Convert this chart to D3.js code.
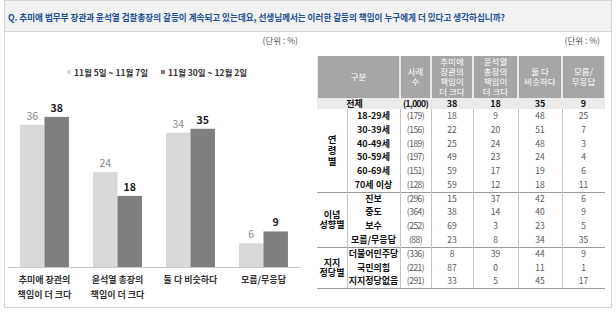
<!DOCTYPE html>
<html>
<head>
<meta charset="utf-8">
<script src="https://cdn.jsdelivr.net/npm/d3@7"></script>
<style>
  html, body { margin: 0; padding: 0; background: #fff; }
  svg { display: block; font-family: "Noto Sans CJK KR", "Noto Sans", sans-serif; }
</style>
</head>
<body>
<svg id="chart" width="616" height="314"></svg>
<script>
// chart data
var title = "Q. 추미애 법무부 장관과 윤석열 검찰총장의 갈등이 계속되고 있는데요, 선생님께서는 이러한 갈등의 책임이 누구에게 더 있다고 생각하십니까?";
var categories = ["추미애 장관의 책임이 더 크다", "윤석열 총장의 책임이 더 크다", "둘 다 비슷하다", "모름/무응답"];
var catLines = [["추미애 장관의", "책임이 더 크다"], ["윤석열 총장의", "책임이 더 크다"], ["둘 다 비슷하다"], ["모름/무응답"]];
var seriesNames = ["11월 5일 ~ 11월 7일", "11월 30일 ~ 12월 2일"];
var nov5 = [36, 24, 34, 6];
var nov30 = [38, 18, 35, 9];

// table data
var colHeaders = [["사례", "수"], ["추미애", "장관의", "책임이", "더 크다"], ["윤석열", "총장의", "책임이", "더 크다"], ["둘 다", "비슷하다"], ["모름/", "무응답"]];
var totalRow = ["(1,000)", 38, 18, 35, 9];
var groupNames = [["연", "령", "별"], ["이념", "성향별"], ["지지", "정당별"]];
var groupSizes = [6, 4, 3];
var rowLabels = ["18-29세", "30-39세", "40-49세", "50-59세", "60-69세", "70세 이상", "진보", "중도", "보수", "모름/무응답", "더불어민주당", "국민의힘", "지지정당없음"];
var rowN = [179, 156, 189, 197, 151, 128, 296, 364, 252, 88, 336, 221, 291];
var rowChu = [18, 22, 25, 49, 59, 59, 15, 38, 69, 23, 8, 87, 33];
var rowYoon = [9, 20, 24, 23, 17, 12, 37, 14, 3, 8, 39, 0, 5];
var rowBoth = [48, 51, 48, 24, 19, 18, 42, 40, 23, 34, 44, 11, 45];
var rowDk = [25, 7, 3, 4, 6, 11, 6, 9, 5, 35, 9, 1, 17];

var colors = ["#d9d9d9", "#7f7f7f"];

var svg = d3.select("#chart");

// frame + header band
svg.append("rect").attr("x", 4.5).attr("y", 0.5).attr("width", 607).attr("height", 307)
    .attr("fill", "#fff").attr("stroke", "#d6d6d6");
svg.append("rect").attr("x", 4.5).attr("y", 0.5).attr("width", 607).attr("height", 31)
    .attr("fill", "#f2f2f2").attr("stroke", "#d6d6d6");
svg.append("text").attr("x", 8).attr("y", 20.5)
    .attr("font-size", 9.5).attr("font-weight", "bold").attr("fill", "#1f4e96")
    .attr("textLength", 497).attr("lengthAdjust", "spacingAndGlyphs")
    .text(title);

[[298, 44], [600, 44]].forEach(function(p) {
  svg.append("text").attr("x", p[0]).attr("y", p[1]).attr("text-anchor", "end")
      .attr("font-size", 8.5).attr("fill", "#555").text("(단위 : %)");
});

// ---- bar chart ----
var x0 = d3.scaleBand().domain(categories).range([8, 300]).paddingInner(0.33).paddingOuter(0.165);
var x1 = d3.scaleBand().domain(seriesNames).range([0, x0.bandwidth()]);
var y = d3.scaleLinear().domain([0, 40]).range([267, 109]);

var values = [nov5, nov30];

// legend
var legX = [67, 161];
seriesNames.forEach(function(s, i) {
  svg.append("rect").attr("x", legX[i]).attr("y", 70).attr("width", 4).attr("height", 4).attr("fill", colors[i]);
  svg.append("text").attr("x", legX[i] + 7).attr("y", 75.5)
      .attr("font-size", 8.5).attr("font-weight", "bold").attr("fill", "#333").text(s);
});

var groups = svg.append("g").selectAll("g")
    .data(categories)
    .enter().append("g")
      .attr("transform", function(d) { return "translate(" + x0(d) + ",0)"; });

function pairs(d, i) {
  return seriesNames.map(function(s, j) { return { s: s, v: values[j][i], j: j }; });
}

groups.selectAll("rect")
    .data(pairs)
    .enter().append("rect")
      .attr("x", function(d) { return x1(d.s); })
      .attr("y", function(d) { return y(d.v); })
      .attr("width", x1.bandwidth())
      .attr("height", function(d) { return y(0) - y(d.v); })
      .attr("fill", function(d) { return colors[d.j]; });

groups.selectAll(".val")
    .data(pairs)
    .enter().append("text")
      .attr("class", "val")
      .attr("x", function(d) { return x1(d.s) + x1.bandwidth() / 2; })
      .attr("y", function(d) { return y(d.v) - 5; })
      .attr("text-anchor", "middle")
      .attr("font-size", 10.5)
      .attr("font-weight", function(d) { return d.j ? "bold" : "normal"; })
      .attr("fill", function(d) { return d.j ? "#1a1a1a" : "#8a8a8a"; })
      .text(function(d) { return d.v; });

svg.append("line").attr("x1", 8).attr("x2", 300).attr("y1", y(0) + 0.5).attr("y2", y(0) + 0.5)
    .attr("stroke", "#c8c8c8");

groups.each(function(d, i) {
  var g = d3.select(this);
  catLines[i].forEach(function(line, k) {
    g.append("text").attr("x", x0.bandwidth() / 2).attr("y", 283 + k * 15)
        .attr("text-anchor", "middle").attr("font-size", 9).attr("font-weight", "bold")
        .attr("fill", "#333").text(line);
  });
});

// ---- table ----
var colEdges = [317, 347, 400, 431, 473, 518, 562, 605];
var headTop = 56, headBot = 98, totBot = 109, tabBot = 288;
var rowY = d3.scaleBand().domain(d3.range(rowLabels.length)).range([totBot, tabBot]);
var tbl = svg.append("g");

// header cells
var headCells = [[colEdges[0], colEdges[2]]];
for (var c = 2; c < 7; c++) headCells.push([colEdges[c], colEdges[c + 1]]);
headCells.forEach(function(hc) {
  tbl.append("rect").attr("x", hc[0] + 0.75).attr("y", headTop).attr("width", hc[1] - hc[0] - 1.5)
      .attr("height", headBot - headTop).attr("fill", "#a6a6a6");
});
tbl.append("text").attr("x", (colEdges[0] + colEdges[2]) / 2).attr("y", 80)
    .attr("text-anchor", "middle").attr("font-size", 8.5).attr("fill", "#fff").text("구분");
colHeaders.forEach(function(lines, i) {
  var cx = (colEdges[i + 2] + colEdges[i + 3]) / 2;
  var startY = 77 - (lines.length - 1) * 10 / 2 + 3;
  lines.forEach(function(l, k) {
    tbl.append("text").attr("x", cx).attr("y", startY + k * 10)
        .attr("text-anchor", "middle").attr("font-size", 8.5).attr("fill", "#fff").text(l);
  });
});

// total row
tbl.append("rect").attr("x", colEdges[0]).attr("y", headBot).attr("width", colEdges[7] - colEdges[0])
    .attr("height", totBot - headBot).attr("fill", "#ebebeb");
tbl.append("text").attr("x", (colEdges[0] + colEdges[2]) / 2 - 4).attr("y", 107)
    .attr("text-anchor", "middle").attr("font-size", 9).attr("font-weight", "bold").attr("fill", "#111").text("전체");
totalRow.forEach(function(v, i) {
  tbl.append("text").attr("x", (colEdges[i + 2] + colEdges[i + 3]) / 2).attr("y", 107)
      .attr("text-anchor", "middle").attr("font-size", i ? 9 : 8.5).attr("font-weight", "bold")
      .attr("letter-spacing", i ? 0 : -0.6).attr("fill", "#111").text(v);
});

// body rows
var bodyCols = [rowN.map(function(n) { return "(" + n + ")"; }), rowChu, rowYoon, rowBoth, rowDk];
rowLabels.forEach(function(lab, r) {
  var yy = rowY(r) + rowY.bandwidth() / 2 + 3.2;
  tbl.append("text").attr("x", (colEdges[1] + colEdges[2]) / 2).attr("y", yy)
      .attr("text-anchor", "middle").attr("font-size", 9).attr("font-weight", "bold").attr("fill", "#111").text(lab);
  bodyCols.forEach(function(col, i) {
    tbl.append("text").attr("x", (colEdges[i + 2] + colEdges[i + 3]) / 2).attr("y", yy)
        .attr("text-anchor", "middle").attr("font-size", 8.5)
        .attr("letter-spacing", i ? 0 : -0.5).attr("fill", "#5a5a5a").text(col[r]);
  });
});

// group labels + separators
var start = 0;
groupSizes.forEach(function(n, gi) {
  var top = rowY(start), bot = rowY(start + n - 1) + rowY.bandwidth();
  var mid = (top + bot) / 2;
  var lines = groupNames[gi];
  var stacked = lines.length > 2;
  var lh = stacked ? 11 : 10;
  lines.forEach(function(l, k) {
    tbl.append("text").attr("x", (colEdges[0] + colEdges[1]) / 2)
        .attr("y", mid - (lines.length - 1) * lh / 2 + k * lh + 3.5)
        .attr("text-anchor", "middle").attr("font-size", stacked ? 9.5 : 9)
        .attr("font-weight", "bold").attr("fill", "#111").text(l);
  });
  tbl.append("line").attr("x1", colEdges[0]).attr("x2", colEdges[7]).attr("y1", Math.round(bot) + 0.5).attr("y2", Math.round(bot) + 0.5)
      .attr("stroke", "#9a9a9a");
  start += n;
});

colEdges.slice(1, 7).forEach(function(cx) {
  tbl.append("line").attr("x1", cx + 0.5).attr("x2", cx + 0.5).attr("y1", totBot).attr("y2", tabBot)
      .attr("stroke", "#c4c4c4");
});
</script>
</body>
</html>
